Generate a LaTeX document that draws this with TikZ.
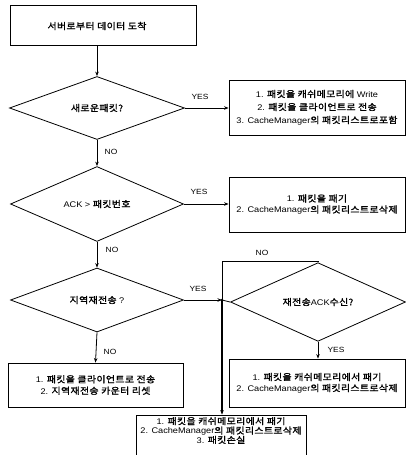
\documentclass[tikz,border=0pt]{standalone}
\usepackage{fontspec}
\setmainfont{Liberation Sans}[FakeStretch=1.12]
\newfontfamily\kr{Noto Sans CJK KR}[Scale=1.08,FakeBold=1.5,FakeStretch=1.12,LetterSpace=4]
\usetikzlibrary{shapes.geometric,arrows.meta}
\newcommand\K[1]{{\kr #1}}
\begin{document}
\begin{tikzpicture}[x=1pt,y=-1pt,
  txt/.style={font=\fontsize{8.2}{12.5}\selectfont},
  box/.style={draw, line width=0.8pt, inner sep=0pt, align=center, txt},
  dia/.style={diamond, draw, line width=0.8pt, inner sep=0pt, align=center, txt},
  lbl/.style={font=\fontsize{7.5}{9}\selectfont, inner sep=0pt},
  arr/.style={line width=0.8pt, -{Stealth[length=4.5pt,width=3.5pt]}},
  ln/.style={line width=0.8pt}]
\useasboundingbox (0,0) rectangle (406,455);
\fill[white] (0,0) rectangle (406,455);

% boxes
\node[box, line width=1pt, minimum width=186pt, minimum height=40pt] (b1) at (103,25) {};
\node[txt] (t1) at (97,26) {\K{서버로부터 데이터 도착}};
\node[box, minimum width=176pt, minimum height=55pt, font=\fontsize{8.2}{13}\selectfont] (b2) at (317,107.5)
  {1. \K{패킷을 캐쉬메모리에} Write\\2. \K{패킷을 클라이언트로 전송}\\3. CacheManager\K{의 패킷리스트로포함}};
\node[box, minimum width=176pt, minimum height=55pt, font=\fontsize{8.2}{11}\selectfont] (b3) at (317,204.5)
  {1. \K{패킷을 패기}\\2. CacheManager\K{의 패킷리스트로삭제}};
\node[box, minimum width=175pt, minimum height=44pt, font=\fontsize{8.2}{11.5}\selectfont] (b4) at (95.5,385)
  {1. \K{패킷을 클라이언트로 전송}\\2. \K{지역재전송 카운터 리셋}};
\node[box, minimum width=176pt, minimum height=48pt, font=\fontsize{8.2}{11}\selectfont] (b5) at (317,383)
  {1. \K{패킷을 캐쉬메모리에서 패기}\\2. CacheManager\K{의 패킷리스트로삭제}};
\node[box, minimum width=170pt, minimum height=50pt] (b6) at (221,440) {};
\node[txt, align=center, font=\fontsize{8.2}{9.4}\selectfont] (t6) at (221,430.5)
  {1. \K{패킷을 캐쉬메모리에서 패기}\\2. CacheManager\K{의 패킷리스트로삭제}\\3. \K{패킷손실}};

% diamonds
\node[dia, minimum width=175pt, minimum height=63pt] (d1) at (97,108) {\K{새로운패킷?}};
\node[dia, minimum width=173pt, minimum height=62pt] (d2) at (97,204) {ACK > \K{패킷번호}};
\node[dia, minimum width=173pt, minimum height=64pt] (d3) at (97,300) {\K{지역재전송} ?};
\node[dia, minimum width=175pt, minimum height=61pt] (d4) at (318,302) {\K{재전송}ACK\K{수신?}};

\coordinate (j) at (222,300);
\coordinate (lt) at (222,261);
\coordinate (rt) at (318,261);

% connectors
\draw[arr] (d1.north |- b1.south) -- (d1.north);
\draw[arr] (d1.east) -- (b2.west |- d1.east);
\draw[arr] (d1.south) -- (d2.north);
\draw[arr] (d2.east) -- (b3.west |- d2.east);
\draw[arr] (d2.south) -- (d3.north);
\draw[arr] (d3.south) -- (b4.north);
\draw[arr] (d3.east) -- (j);
\draw[ln] (j) -- (d4.west);
\draw[ln] (d4.north) -- (rt) -- (lt) -- (j);
\draw[arr, line width=1.1pt] (j) -- (b6.north -| j);
\draw[arr] (d4.south) -- (b5.north -| d4.south);
\fill (j) circle (1.3pt);

% labels
\node[lbl] (y1) at (200,97) {YES};
\node[lbl] (n1) at (111,152) {NO};
\node[lbl] (y2) at (199,192) {YES};
\node[lbl] (n2) at (112,250) {NO};
\node[lbl] (y3) at (198,289) {YES};
\node[lbl] (n4) at (262,253) {NO};
\node[lbl] (n3) at (110,352) {NO};
\node[lbl] (y4) at (336,350) {YES};
\end{tikzpicture}
\end{document}
